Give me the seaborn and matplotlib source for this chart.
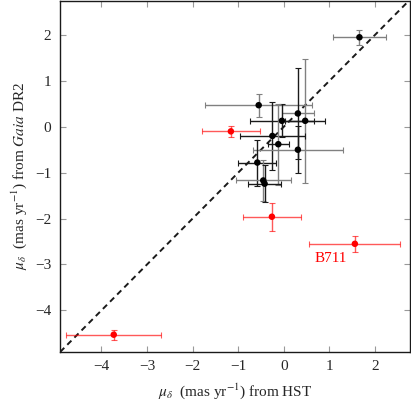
import pandas as pd
import seaborn as sns
import matplotlib.pyplot as plt

# proper motions in declination (mas/yr)
hst = [1.66, -0.55, 0.31, -0.04, 0.47, -0.25, -0.12, 0.31, -0.58, -0.45, -0.42,
       -1.16, -0.26, 1.56, -3.73]
gaia = [1.95, 0.47, 0.29, 0.13, 0.13, -0.20, -0.38, -0.50, -0.78, -1.17, -1.24,
        -0.10, -1.96, -2.55, -4.53]
hst_err = [0.58, 1.17, 0.35, 0.70, 0.44, 0.71, 0.23, 0.98, 0.42, 0.60, 0.36,
           0.63, 0.63, 1.00, 1.04]
gaia_err = [0.16, 0.25, 1.00, 0.36, 1.35, 0.75, 0.88, 0.51, 0.50, 0.45, 0.40,
            0.12, 0.31, 0.17, 0.11]
outlier = [False] * 11 + [True] * 4
labels = [""] * 13 + ["B711", ""]

df = pd.DataFrame({"hst": hst, "gaia": gaia, "hst_err": hst_err,
                   "gaia_err": gaia_err, "outlier": outlier, "label": labels})

# error bar shades for the non-outliers (x, y)
xcol = ["0.5", "0.5", "0.5", "k", "k", "k", "k", "0.5", "k", "0.5", "k"]
ycol = ["0.5", "0.5", "k", "k", "0.5", "k", "0.5", "k", "k", "0.5", "k"]

sns.set_theme(style="ticks")
plt.rcParams["font.family"] = ["Liberation Serif", "DejaVu Serif"]
plt.rcParams["mathtext.fontset"] = "stix"
plt.rcParams["axes.unicode_minus"] = True

fig = plt.figure(figsize=(4.11, 4.04), dpi=100)
ax = fig.add_axes([0.1448, 0.1295, 0.9976 - 0.1448, 0.9975 - 0.1295])

lims = (-4.92, 2.77)
ax.plot([-6, 4], [-6, 4], ls=(0, (3, 2.2)), color="k", lw=1.4, zorder=1)

for i, row in df.iterrows():
    if row["outlier"]:
        cx = cy = "red"
        a = 0.65
    else:
        cx, cy = xcol[i], ycol[i]
        a = 1.0
    ax.errorbar(row["hst"], row["gaia"], xerr=row["hst_err"], fmt="none",
                ecolor=cx, elinewidth=1.0, capsize=2, capthick=0.8, alpha=a, zorder=2)
    ax.errorbar(row["hst"], row["gaia"], yerr=row["gaia_err"], fmt="none",
                ecolor=cy, elinewidth=1.0, capsize=2, capthick=0.8, alpha=a, zorder=2)

sns.scatterplot(data=df, x="hst", y="gaia", hue="outlier",
                palette={False: "black", True: "red"}, s=22, linewidth=0,
                legend=False, ax=ax, zorder=3)

for _, row in df[df["label"] != ""].iterrows():
    ax.text(row["hst"] - 0.54, row["gaia"] - 0.40, row["label"], color="red",
            fontsize=11, ha="center", va="baseline")

ax.set_xlim(lims)
ax.set_ylim(-4.90, 2.74)
ax.set_xticks(range(-4, 3))
ax.set_yticks(range(-4, 3))
ax.tick_params(direction="in", length=4, color="0.6", labelsize=11,
               top=True, right=True, width=0.8, pad=6)
for s in ax.spines.values():
    s.set_color("k")
    s.set_linewidth(1.0)

ax.set_xlabel(r"$\mu_\delta$  (mas yr$^{-1}$) from HST", fontsize=11, labelpad=6)
ax.set_ylabel(r"$\mu_\delta$  (mas yr$^{-1}$) from $\it{Gaia}$ DR2", fontsize=11, labelpad=4)

fig.savefig("out.png", dpi=100)
